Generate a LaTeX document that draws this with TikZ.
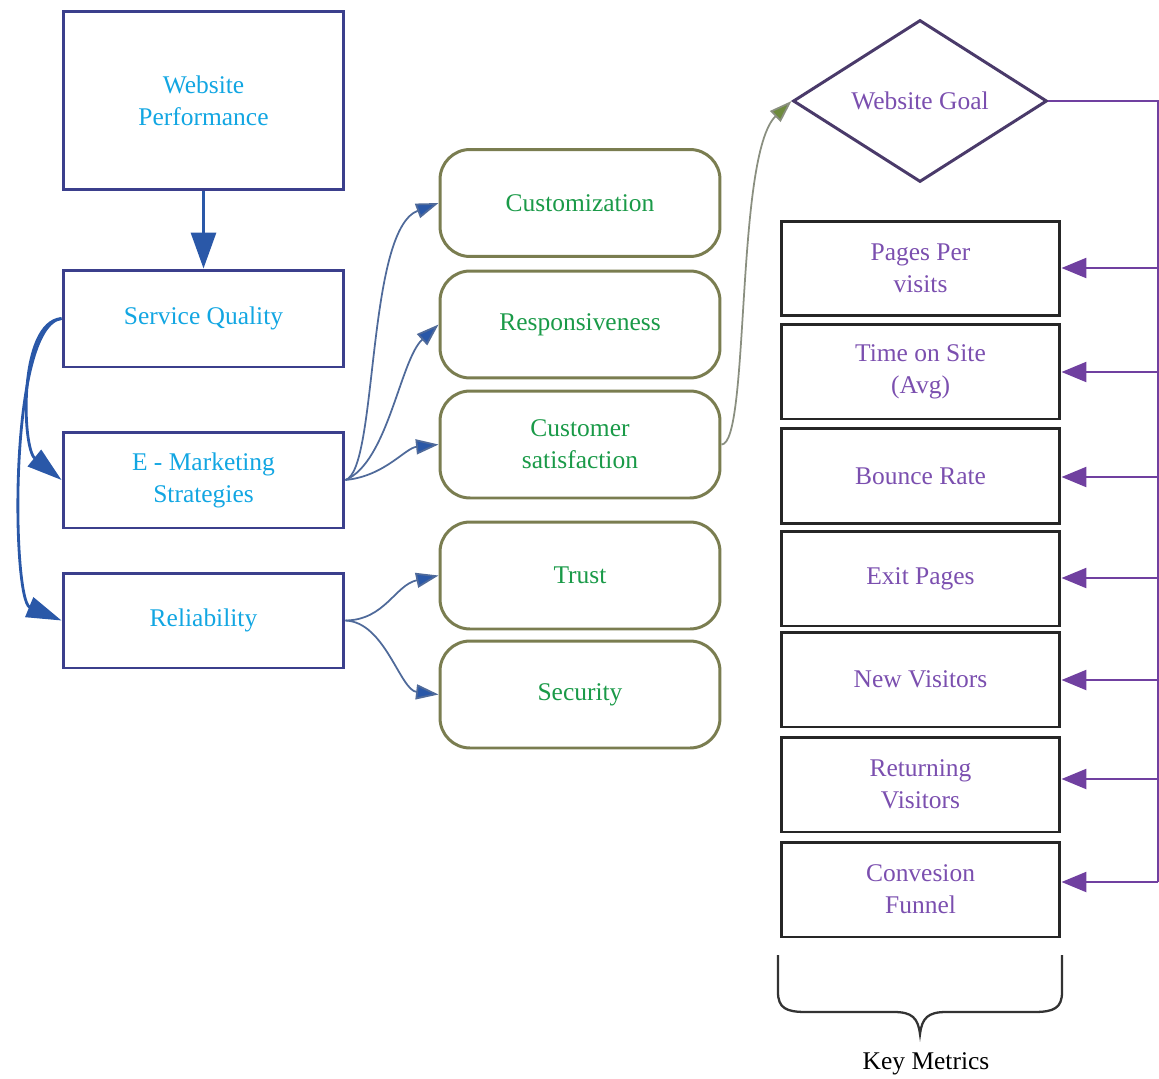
\documentclass[tikz,border=0pt]{standalone}
\usepackage{fontspec}
\setmainfont{Liberation Serif}
\usetikzlibrary{shapes.geometric,arrows.meta}
\definecolor{navyb}{HTML}{3B3F8C}
\definecolor{cyanT}{HTML}{12A6E2}
\definecolor{olivebd}{HTML}{7A7D50}
\definecolor{greenT}{HTML}{1A9A48}
\definecolor{purpT}{HTML}{7B4FAF}
\definecolor{purpL}{HTML}{7040A0}
\definecolor{diabd}{HTML}{4A3A6A}
\definecolor{blueA}{HTML}{2A58A8}
\definecolor{slateL}{HTML}{4F6A9A}
\definecolor{oliveA}{HTML}{6E8B3D}
\definecolor{grayL}{HTML}{8A8F80}
\begin{document}
\begin{tikzpicture}[x=0.02cm,y=-0.02cm,
  font=\fontsize{14.5}{18.2}\selectfont,
  bluebox/.style={draw=navyb, line width=1.7pt, text=cyanT, align=center,
    minimum width=5.62cm, inner sep=0pt},
  greenbox/.style={draw=olivebd, line width=1.7pt, text=greenT, align=center,
    rounded corners=0.6cm, minimum width=5.6cm, minimum height=2.14cm, inner sep=0pt},
  metricbox/.style={draw=black!85, line width=1.7pt, text=purpT, align=center,
    minimum width=5.58cm, minimum height=1.9cm, inner sep=0pt},
  goalbox/.style={diamond, draw=diabd, line width=1.7pt, text=purpT, aspect=1.57,
    minimum width=5.08cm, minimum height=3.24cm, inner sep=0pt},
  bigarrow/.style={draw=blueA, line width=1.8pt, -{Triangle[width=0.5cm,length=0.72cm]}, fill=none},
  sidearrow/.style={draw=blueA, line width=1.6pt, -{Triangle[width=0.42cm,length=0.7cm]}},
  fanarrow/.style={draw=slateL, line width=1pt, -{Triangle[width=0.3cm,length=0.45cm,fill=blueA]}},
  goalarrow/.style={draw=grayL, line width=1pt, -{Triangle[width=0.3cm,length=0.45cm,fill=oliveA]}},
  purpline/.style={draw=purpL, line width=1.4pt},
  purparrow/.style={draw=purpL, line width=1.4pt, -{Triangle[width=0.4cm,length=0.5cm]}},
]
\useasboundingbox (0,0) rectangle (1159,1078);

% left column
\node[bluebox, minimum height=3.58cm] (wp) at (203.5,100.5) {Website\\ Performance};
\node[bluebox, minimum height=1.94cm] (sq) at (203.5,318.5) {Service Quality};
\node[bluebox, minimum height=1.92cm] (em) at (203.5,480) {E - Marketing\\ Strategies};
\node[bluebox, minimum height=1.9cm] (rel) at (203.5,620.5) {Reliability};

% middle column
\node[greenbox] (cu) at (580,203) {Customization};
\node[greenbox] (re) at (580,324.5) {Responsiveness};
\node[greenbox] (cs) at (580,444.5) {Customer\\ satisfaction};
\node[greenbox] (tr) at (580,575.5) {Trust};
\node[greenbox] (se) at (580,694.5) {Security};

% right column
\node[goalbox] (gl) at (920,101) {Website Goal};
\node[metricbox] (pv) at (920.5,268.5) {Pages Per\\ visits};
\node[metricbox] (ts) at (920.5,371.5) {Time on Site\\ (Avg)};
\node[metricbox] (br) at (920.5,476) {Bounce Rate};
\node[metricbox] (ep) at (920.5,578.5) {Exit Pages};
\node[metricbox] (nv) at (920.5,679.5) {New Visitors};
\node[metricbox] (rv) at (920.5,784.5) {Returning\\ Visitors};
\node[metricbox] (cf) at (920.5,889.5) {Convesion\\ Funnel};
\node[text=black] (km) at (926,1064) {Key Metrics};

% left connectors
\draw[bigarrow] (wp.south) -- (sq.north);
\draw[sidearrow] (sq.west) .. controls (18,322) and (22,448) .. (em.west);
\draw[sidearrow] (sq.west) .. controls (8,325) and (12,600) .. (rel.west);

% fan connectors
\draw[fanarrow] (em.east) .. controls (378,470) and (366,230) .. (cu.west);
\draw[fanarrow] (em.east) .. controls (388,462) and (400,360) .. (re.west);
\draw[fanarrow] (em.east) .. controls (385,476) and (405,448) .. (cs.west);
\draw[fanarrow] (rel.east) .. controls (385,620) and (395,585) .. (tr.west);
\draw[fanarrow] (rel.east) .. controls (385,622) and (400,690) .. (se.west);

% to goal
\draw[goalarrow] (cs.east) .. controls (750,445) and (735,155) .. (gl.west);

% purple feedback
\coordinate (r1) at (1158,268);
\coordinate (r2) at (1158,372);
\coordinate (r3) at (1158,477);
\coordinate (r4) at (1158,578);
\coordinate (r5) at (1158,680);
\coordinate (r6) at (1158,779);
\coordinate (r7) at (1158,882);
\draw[purpline] (gl.east) -| (r7);
\draw[purparrow] (r1) -- (r1 -| pv.east);
\draw[purparrow] (r2) -- (r2 -| ts.east);
\draw[purparrow] (r3) -- (r3 -| br.east);
\draw[purparrow] (r4) -- (r4 -| ep.east);
\draw[purparrow] (r5) -- (r5 -| nv.east);
\draw[purparrow] (r6) -- (r6 -| rv.east);
\draw[purparrow] (r7) -- (r7 -| cf.east);

% brace
\draw[black!80, line width=1.3pt]
  (778,955) -- (778,992) .. controls (778,1008) and (786,1012) .. (806,1012)
  -- (894,1012) .. controls (912,1012) and (918,1018) .. (920,1034)
  .. controls (922,1018) and (928,1012) .. (946,1012)
  -- (1034,1012) .. controls (1054,1012) and (1062,1008) .. (1062,992) -- (1062,955);
\end{tikzpicture}
\end{document}
